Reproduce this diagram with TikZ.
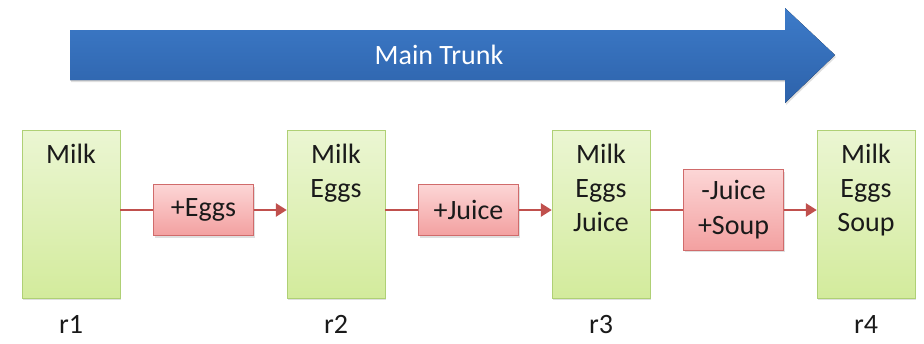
\documentclass[tikz,border=0pt]{standalone}
\usepackage{fontspec}
\setmainfont{Carlito}
\usepackage{tikz}
\usetikzlibrary{positioning}
\usetikzlibrary{arrows.meta}
\usetikzlibrary{shadows}
\definecolor{revtop}{HTML}{EBF6D3}
\definecolor{revbot}{HTML}{D3EB9C}
\definecolor{revline}{HTML}{AFD075}
\definecolor{chgtop}{HTML}{FCD6D6}
\definecolor{chgbot}{HTML}{F3A0A0}
\definecolor{chgline}{HTML}{D06B6B}
\definecolor{flowline}{HTML}{C0504D}
\definecolor{trunktop}{HTML}{3D7BC9}
\definecolor{trunkbot}{HTML}{2D62AA}
\definecolor{ink}{HTML}{1A1A1A}
\newcommand{\revtext}[1]{\parbox[c][168pt][t]{98pt}{\centering\rule{0pt}{33pt}#1}}
\tikzset{	node distance=265pt,
	softshadow/.style={
		drop shadow={opacity=0.25, shadow xshift=1pt, shadow yshift=-2pt}},
	rev/.style={
		draw=revline,
		top color=revtop,
		bottom color=revbot,
		inner sep=0pt,
		text=ink,
		font=\fontsize{28}{34}\selectfont,
		softshadow},
	change/.style={
		draw=chgline,
		top color=chgtop,
		bottom color=chgbot,
		minimum width=100pt,
		minimum height=51pt,
		inner ysep=11pt,
		align=center,
		text=ink,
		font=\fontsize{28}{35}\selectfont,
		softshadow},
	flow/.style={
		draw=flowline,
		line width=2.6pt},
	every label/.style={
		text=ink,
		inner sep=0pt,
		font=\fontsize{28}{34}\selectfont}
}
\begin{document}
\begin{tikzpicture}[x=1pt,y=1pt]
	\useasboundingbox (0,0) rectangle (924,-343);
	% trunk
	\fill[top color=trunktop, bottom color=trunkbot, softshadow]
		(70,-30) -- (785,-30) -- (785,-8) -- (835,-55) -- (785,-103) -- (785,-80) -- (70,-80) -- cycle;
	\node[text=white, font=\fontsize{28}{34}\selectfont] (trunk) at (439,-55) {Main Trunk};
	% revisions
	\node[rev, label={[label distance=17pt]below:r1}] (m1) at (71,-214) {\revtext{Milk}};
	\node[rev, right of=m1, label={[label distance=17pt]below:r2}] (m2) {\revtext{Milk\\Eggs}};
	\node[rev, right of=m2, label={[label distance=17pt]below:r3}] (m3) {\revtext{Milk\\Eggs\\Juice}};
	\node[rev, right of=m3, label={[label distance=17pt]below:r4}] (m4) {\revtext{Milk\\Eggs\\Soup}};
	% changes
	\node[change, right of=m1, node distance=132.5pt, yshift=4pt] (e1) {+Eggs};
	\node[change, right of=m2, node distance=132.5pt, yshift=4pt] (e2) {+Juice};
	\node[change, right of=m3, node distance=132.5pt, yshift=4pt] (e3) {-Juice\\+Soup};
	\foreach \a/\b/\c in {m1/e1/m2, m2/e2/m3, m3/e3/m4}{
		\draw[flow] (\a.east |- \b.west) -- (\b.west);
		\draw[flow, -{Triangle[length=11pt,width=13pt]}] (\b.east) -- (\b.east -| \c.west);
	}
\end{tikzpicture}
\end{document}
